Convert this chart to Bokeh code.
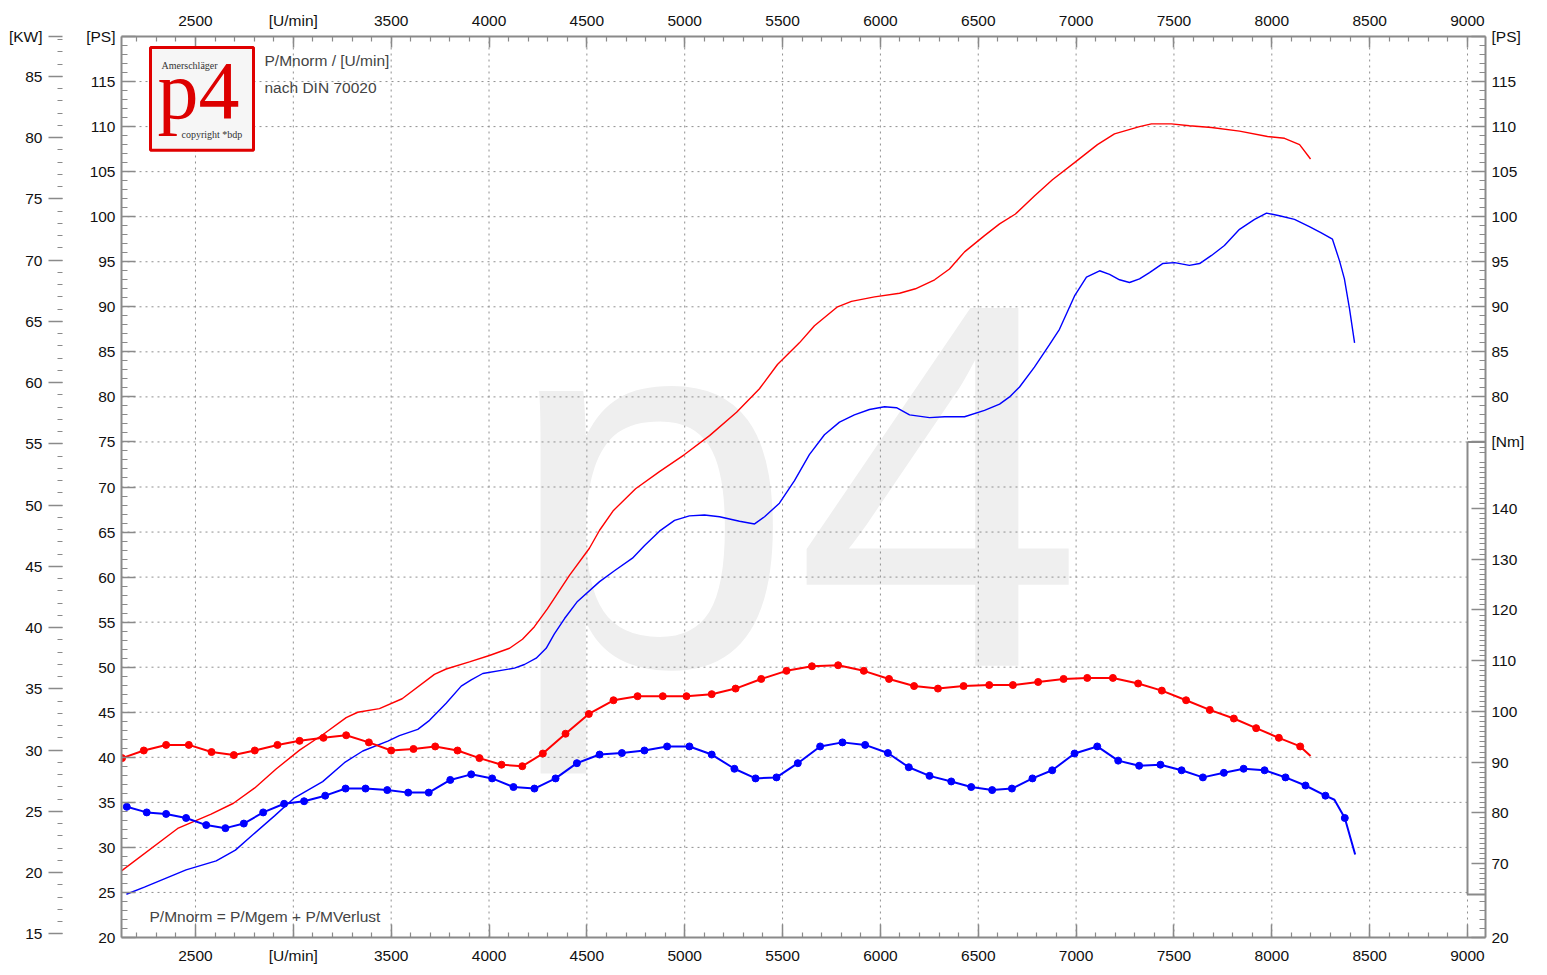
from bokeh.plotting import figure
from bokeh.models import (Range1d, LinearAxis, FixedTicker, Label,
                          BoxAnnotation, PrintfTickFormatter)
from bokeh.embed import file_html
from bokeh.resources import INLINE

# ---------------- data ----------------
red_power_rpm = [2122, 2409, 2580, 2694, 2803, 2912, 3032, 3150, 3270, 3329, 3440, 3556,
                 3721, 3781, 3900, 4002, 4105, 4171, 4232, 4299, 4411, 4513, 4565, 4636,
                 4749, 4871, 4999, 5127, 5265, 5382, 5474, 5586, 5663, 5781, 5852, 5970,
                 6098, 6179, 6277, 6353, 6430, 6532, 6609, 6690, 6787, 6879, 6992, 7109,
                 7196, 7324, 7385, 7487, 7579, 7692, 7835, 7978, 8065, 8142, 8198]
red_power_ps = [27.4, 32.1, 33.7, 34.9, 36.6, 38.7, 40.8, 42.5, 44.4, 45.0, 45.4, 46.5,
                49.2, 49.8, 50.6, 51.3, 52.1, 53.1, 54.5, 56.5, 60.2, 63.2, 65.2, 67.4,
                69.8, 71.7, 73.6, 75.7, 78.3, 80.9, 83.6, 86.0, 87.9, 90.0, 90.6, 91.1,
                91.5, 92.0, 93.0, 94.2, 96.1, 97.9, 99.2, 100.3, 102.3, 104.1, 106.0, 108.0,
                109.2, 110.0, 110.3, 110.3, 110.1, 109.9, 109.5, 108.9, 108.7, 108.0, 106.4]

blue_power_rpm = [2147, 2239, 2452, 2606, 2704, 2793, 2904, 3006, 3150, 3261, 3355, 3483,
                  3542, 3636, 3696, 3781, 3858, 3909, 3968, 4130, 4181, 4241, 4292, 4334,
                  4386, 4452, 4565, 4641, 4733, 4795, 4871, 4948, 5024, 5101, 5178, 5280,
                  5357, 5408, 5484, 5561, 5637, 5714, 5791, 5867, 5944, 6021, 6082, 6149,
                  6251, 6328, 6430, 6532, 6609, 6660, 6711, 6787, 6864, 6915, 6992, 7053,
                  7120, 7171, 7222, 7273, 7324, 7375, 7442, 7503, 7579, 7631, 7692, 7758,
                  7835, 7912, 7973, 8039, 8116, 8192, 8253, 8310, 8346, 8371, 8397, 8423]
blue_power_ps = [24.8, 25.6, 27.5, 28.5, 29.7, 31.4, 33.5, 35.5, 37.3, 39.4, 40.7, 41.8,
                 42.4, 43.1, 44.1, 46.0, 47.9, 48.6, 49.3, 49.9, 50.3, 51.0, 52.1, 53.7,
                 55.4, 57.3, 59.5, 60.7, 62.1, 63.5, 65.1, 66.3, 66.8, 66.9, 66.7, 66.2,
                 65.9, 66.7, 68.2, 70.7, 73.6, 75.8, 77.2, 78.0, 78.6, 78.9, 78.8, 78.0,
                 77.7, 77.8, 77.8, 78.5, 79.2, 80.0, 81.1, 83.3, 85.8, 87.5, 91.2, 93.3,
                 94.0, 93.6, 93.0, 92.7, 93.1, 93.8, 94.8, 94.9, 94.6, 94.8, 95.7, 96.8,
                 98.6, 99.7, 100.4, 100.1, 99.7, 98.9, 98.2, 97.5, 95.1, 93.1, 89.8, 86.0]

red_torque_rpm = [2125, 2236, 2350, 2466, 2582, 2696, 2803, 2919, 3032, 3154, 3270, 3386,
                  3500, 3614, 3725, 3839, 3951, 4064, 4170, 4275, 4391, 4510, 4636, 4759,
                  4888, 5009, 5138, 5260, 5391, 5520, 5650, 5784, 5915, 6044, 6172, 6294,
                  6425, 6556, 6677, 6806, 6936, 7057, 7188, 7317, 7438, 7562, 7683, 7806,
                  7920, 8036, 8145]
red_torque_nm = [90.8, 92.3, 93.4, 93.4, 92.0, 91.4, 92.3, 93.4, 94.2, 94.8, 95.3, 93.9,
                 92.3, 92.6, 93.1, 92.3, 90.8, 89.5, 89.2, 91.7, 95.6, 99.5, 102.2, 103.0,
                 103.0, 103.0, 103.4, 104.5, 106.4, 108.0, 108.9, 109.1, 108.0, 106.4, 105.0, 104.5,
                 105.0, 105.2, 105.2, 105.8, 106.4, 106.6, 106.6, 105.5, 104.1, 102.2, 100.3, 98.6,
                 96.7, 94.8, 93.1]
red_torque_extra_rpm = [8198]
red_torque_extra_nm = [91.2]

blue_torque_rpm = [2149, 2251, 2350, 2452, 2555, 2653, 2747, 2846, 2953, 3055, 3163, 3267,
                   3369, 3480, 3587, 3692, 3802, 3909, 4016, 4125, 4232, 4340, 4449, 4565,
                   4679, 4794, 4910, 5024, 5138, 5254, 5362, 5469, 5578, 5692, 5806, 5922,
                   6038, 6145, 6251, 6362, 6464, 6571, 6672, 6777, 6878, 6992, 7108, 7215,
                   7322, 7431, 7539, 7648, 7755, 7856, 7963, 8070, 8172, 8274, 8373]
blue_torque_nm = [81.2, 80.1, 79.8, 79.0, 77.6, 77.0, 77.9, 80.1, 81.8, 82.3, 83.4, 84.8,
                  84.8, 84.5, 84.0, 84.0, 86.5, 87.6, 86.8, 85.1, 84.8, 86.8, 89.8, 91.5,
                  91.8, 92.3, 93.1, 93.1, 91.5, 88.7, 86.8, 87.0, 89.8, 93.1, 93.9, 93.4,
                  91.8, 89.0, 87.3, 86.2, 85.1, 84.5, 84.8, 86.8, 88.4, 91.7, 93.1, 90.3,
                  89.3, 89.5, 88.4, 87.0, 87.9, 88.7, 88.4, 87.0, 85.4, 83.4, 79.0]
blue_torque_extra_rpm = [8320, 8426]
blue_torque_extra_nm = [82.6, 71.8]

# ticks / labels
x_major = list(range(2500, 9001, 500))
x_minor = list(range(2200, 9001, 100))
x_label_overrides = {3000: "[U/min]"}
ps_major = list(range(20, 116, 5))
ps_minor = list(range(21, 120))
ps_grid = list(range(25, 116, 5))
kw_major = list(range(15, 86, 5))
kw_minor = list(range(15, 89))
nm_major = list(range(70, 141, 10))
nm_minor = list(range(64, 153))
ps_right_major = [20] + list(range(75, 116, 5))
ps_right_minor = list(range(21, 25)) + list(range(76, 120))

# ---------------- scales / geometry ----------------
X_START, X_END = 2122, 9092
PS_START, PS_END = 20, 120
KW_PER_PS = 0.7355
NM_START, NM_END = 55.45, 233.0
NM_BOX_BOTTOM = 63.9
NM_BOX_TOP_PS = 75
RPM_PER_PX = (X_END - X_START) / 1364.0
PS_PER_PX = (PS_END - PS_START) / 903.0
BASELINE_FIX = 0.343   # bokeh shifts 'alphabetic' text down by ~0.343 * font size
KW_LINE_PX = 83        # where the (invisible) kW axis line ends up
KW_TICK_END_PX = 62    # where the kW ticks should start (inner end)
KW_MAJOR_LEN, KW_MINOR_LEN = 14, 5

RED = "#ff0000"
BLUE = "#0000ff"
AX = "#8a8a8a"
GRID = "#8f8f8f"
FONT = "Liberation Sans"
FS = "15.5px"


def nm_to_ps(n):
    return PS_START + (n - NM_START) * (PS_END - PS_START) / (NM_END - NM_START)


def px_x(px):  # image pixel -> rpm
    return X_START + (px - 122) * RPM_PER_PX


def px_y(py):  # image pixel -> PS
    return PS_START + (940 - py) * PS_PER_PX


p = figure(width=1539, height=966,
           x_range=Range1d(X_START, X_END), y_range=Range1d(PS_START, PS_END),
           output_backend="svg", toolbar_location=None,
           x_axis_location=None, y_axis_location=None,
           min_border_left=121, min_border_right=54, min_border_top=36, min_border_bottom=27,
           outline_line_color=None, background_fill_color="white", border_fill_color="white")
p.grid.visible = False
p.extra_y_ranges = {"kw": Range1d(PS_START * KW_PER_PS, PS_END * KW_PER_PS),
                    "nm": Range1d(NM_START, NM_END)}


def style(ax, tin, tout, mtin, mtout, standoff):
    ax.axis_line_color = AX
    ax.axis_line_width = 2
    ax.major_tick_line_color = AX
    ax.major_tick_line_width = 1.5
    ax.minor_tick_line_color = AX
    ax.minor_tick_line_width = 1.2
    ax.major_tick_in = tin
    ax.major_tick_out = tout
    ax.minor_tick_in = mtin
    ax.minor_tick_out = mtout
    ax.major_label_standoff = standoff
    ax.major_label_text_font = FONT
    ax.major_label_text_font_size = FS
    ax.major_label_text_color = "#111111"


# watermark
WM_FS = 520
p.add_layout(Label(x=px_x(506), y=px_y(665 - BASELINE_FIX * WM_FS), text="p4",
                   text_font="Liberation Sans", text_font_size=f"{WM_FS}px",
                   text_color="#efefef", text_baseline="alphabetic", level="image"))

# gridlines
p.segment(x0=x_major, x1=x_major, y0=[PS_START] * len(x_major), y1=[PS_END] * len(x_major),
          line_color=GRID, line_width=1, line_dash="2 4")
p.segment(x0=[X_START] * len(ps_grid), x1=[9000] * len(ps_grid), y0=ps_grid, y1=ps_grid,
          line_color=GRID, line_width=1, line_dash="2 4")

# Nm box
nb = nm_to_ps(NM_BOX_BOTTOM)
p.segment(x0=[9000, 9000, 9000], x1=[9000, X_END, X_END],
          y0=[nb, NM_BOX_TOP_PS, nb], y1=[NM_BOX_TOP_PS, NM_BOX_TOP_PS, nb],
          line_color=AX, line_width=2)

# curves
p.line(red_power_rpm, red_power_ps, line_color=RED, line_width=1.4)
p.line(blue_power_rpm, blue_power_ps, line_color=BLUE, line_width=1.4)

rt = sorted(zip(red_torque_rpm + red_torque_extra_rpm, red_torque_nm + red_torque_extra_nm))
p.line([a for a, b in rt], [b for a, b in rt], line_color=RED, line_width=2, y_range_name="nm")
p.scatter(red_torque_rpm, red_torque_nm, marker="circle", size=7, fill_color=RED,
          line_color=RED, y_range_name="nm")
bt = sorted(zip(blue_torque_rpm + blue_torque_extra_rpm, blue_torque_nm + blue_torque_extra_nm))
p.line([a for a, b in bt], [b for a, b in bt], line_color=BLUE, line_width=2, y_range_name="nm")
p.scatter(blue_torque_rpm, blue_torque_nm, marker="circle", size=7, fill_color=BLUE,
          line_color=BLUE, y_range_name="nm")

# axes
ax_b = LinearAxis(ticker=FixedTicker(ticks=x_major, minor_ticks=x_minor),
                  major_label_overrides=x_label_overrides)
style(ax_b, 13, 0, 5, 0, 9)
p.add_layout(ax_b, "below")
ax_t = LinearAxis(ticker=FixedTicker(ticks=x_major, minor_ticks=x_minor),
                  major_label_overrides=x_label_overrides)
style(ax_t, 11, 0, 5, 0, 8)
p.add_layout(ax_t, "above")

ps_left_ticks = ps_major + [PS_END]
ax_ps = LinearAxis(ticker=FixedTicker(ticks=ps_left_ticks, minor_ticks=ps_minor),
                   major_label_overrides={PS_END: "[PS]"})
style(ax_ps, 14, 0, 6, 0, 6)
p.add_layout(ax_ps, "left")

# kW scale: its axis line is hidden; ticks are pushed outwards so they sit at x=48..62
kw_top = PS_END * KW_PER_PS
gap = KW_LINE_PX - KW_TICK_END_PX
ax_kw = LinearAxis(y_range_name="kw",
                   ticker=FixedTicker(ticks=kw_major + [kw_top], minor_ticks=kw_minor),
                   formatter=PrintfTickFormatter(format="%d"),
                   major_label_overrides={kw_top: "[KW]"})
style(ax_kw, -gap, gap + KW_MAJOR_LEN, -gap, gap + KW_MINOR_LEN, 6)
ax_kw.axis_line_alpha = 0
p.add_layout(ax_kw, "left")

right_ticks = ps_right_major + [PS_END] + [nm_to_ps(n) for n in nm_major]
right_minor = ps_right_minor + [nm_to_ps(n) for n in nm_minor if n % 10]
overrides = {v: str(v) for v in ps_right_major}
overrides[75] = "[Nm]"
overrides[PS_END] = "[PS]"
for n in nm_major:
    overrides[nm_to_ps(n)] = str(n)
ax_r = LinearAxis(ticker=FixedTicker(ticks=right_ticks, minor_ticks=right_minor),
                  formatter=PrintfTickFormatter(format="%d"), major_label_overrides=overrides)
style(ax_r, 14, 0, 6, 0, 6)
p.add_layout(ax_r, "right")

# descriptive texts
p.add_layout(Label(x=px_x(265), y=px_y(61), text="P/Mnorm / [U/min]", text_font=FONT,
                   text_font_size=FS, text_baseline="middle"))
p.add_layout(Label(x=px_x(265), y=px_y(88), text="nach DIN 70020", text_font=FONT,
                   text_font_size=FS, text_baseline="middle"))
p.add_layout(Label(x=px_x(150), y=px_y(919), text="P/Mnorm = P/Mgem + P/MVerlust", text_font=FONT,
                   text_font_size=FS, text_baseline="middle"))

# logo
LOGO_FS = 82
p.add_layout(BoxAnnotation(left=px_x(151), right=px_x(254), top=px_y(48), bottom=px_y(151),
                           fill_color="#f6f6f6", fill_alpha=1, line_color="#e00000",
                           line_width=3, line_alpha=1))
p.add_layout(Label(x=px_x(158), y=px_y(119 - BASELINE_FIX * LOGO_FS), text="p4",
                   text_font="Liberation Serif", text_font_size=f"{LOGO_FS}px",
                   text_color="#dd0000", text_baseline="alphabetic"))
p.add_layout(Label(x=px_x(162), y=px_y(66), text="Amerschläger", text_font="Liberation Serif",
                   text_font_size="10px", text_color="#333333", text_baseline="middle"))
p.add_layout(Label(x=px_x(182), y=px_y(135), text="copyright *bdp", text_font="Liberation Serif",
                   text_font_size="10px", text_color="#333333", text_baseline="middle"))

open("out.html", "w").write(file_html(p, INLINE))
